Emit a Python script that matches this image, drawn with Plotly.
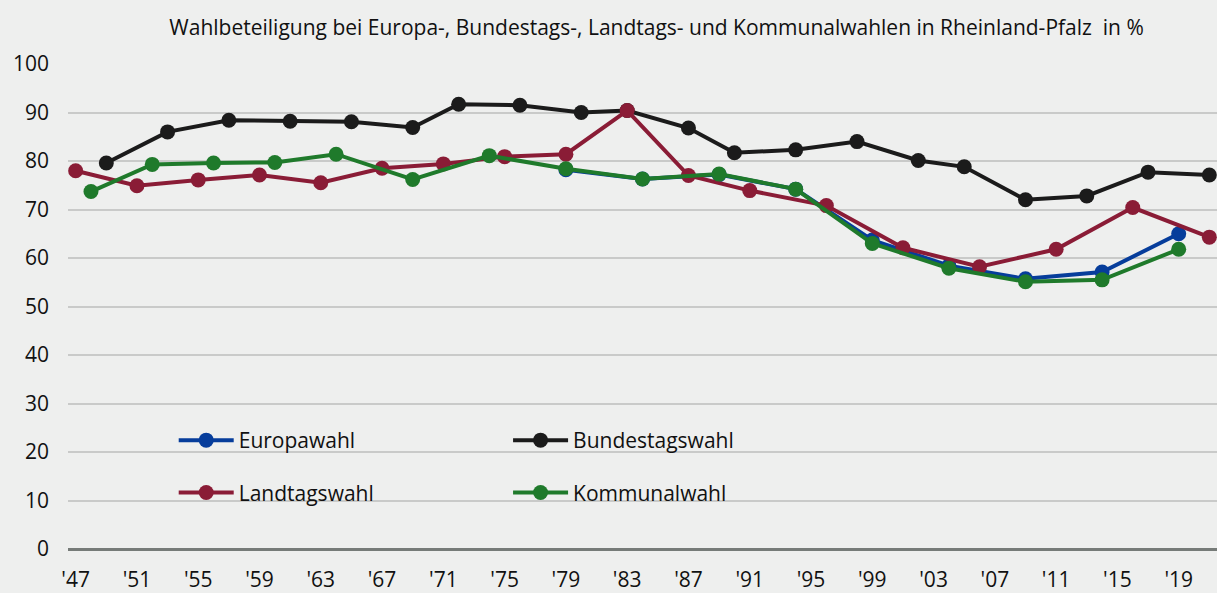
import plotly.graph_objects as go

# ---- data ----
eu_years = [1979, 1984, 1989, 1994, 1999, 2004, 2009, 2014, 2019]
eu_vals = [78.2, 76.3, 77.2, 74.2, 63.7, 58.4, 55.7, 57.1, 65.0]

bt_years = [1949, 1953, 1957, 1961, 1965, 1969, 1972, 1976, 1980, 1983,
            1987, 1990, 1994, 1998, 2002, 2005, 2009, 2013, 2017, 2021]
bt_vals = [79.6, 86.0, 88.4, 88.2, 88.1, 86.9, 91.7, 91.5, 90.0, 90.4,
           86.8, 81.7, 82.3, 84.0, 80.1, 78.8, 72.0, 72.8, 77.7, 77.1]

lt_years = [1947, 1951, 1955, 1959, 1963, 1967, 1971, 1975, 1979, 1983,
            1987, 1991, 1996, 2001, 2006, 2011, 2016, 2021]
lt_vals = [78.0, 74.9, 76.1, 77.1, 75.5, 78.5, 79.4, 80.9, 81.4, 90.4,
           77.0, 73.9, 70.8, 62.1, 58.2, 61.8, 70.4, 64.3]

kw_years = [1948, 1952, 1956, 1960, 1964, 1969, 1974, 1979, 1984, 1989,
            1994, 1999, 2004, 2009, 2014, 2019]
kw_vals = [73.7, 79.3, 79.6, 79.7, 81.4, 76.2, 81.1, 78.4, 76.3, 77.3,
           74.2, 63.0, 57.9, 55.1, 55.5, 61.8]

tick_years = list(range(1947, 2020, 4))
tick_labels = ["'" + str(y)[2:] for y in tick_years]
y_ticks = list(range(0, 101, 10))

title_text = "Wahlbeteiligung bei Europa-, Bundestags-, Landtags- und Kommunalwahlen in Rheinland-Pfalz  in %"

# ---- styles ----
BG = "#eeefee"
FONT = "Open Sans"
TXT = "#111111"
series = [
    ("Europawahl", eu_years, eu_vals, "#063d9b", "legend", "g1"),
    ("Bundestagswahl", bt_years, bt_vals, "#1b1b1b", "legend2", "g2"),
    ("Landtagswahl", lt_years, lt_vals, "#8a1c36", "legend", "g3"),
    ("Kommunalwahl", kw_years, kw_vals, "#1f7a2b", "legend2", "g4"),
]

fig = go.Figure()
for name, xs, ys, col, leg, grp in series:
    fig.add_trace(go.Scatter(
        x=xs, y=ys, name=name, mode="lines+markers",
        line=dict(color=col, width=4),
        marker=dict(color=col, size=15),
        legend=leg, legendgroup=grp, cliponaxis=False,
    ))

legend_common = dict(
    bgcolor="rgba(0,0,0,0)", font=dict(family=FONT, size=21, color=TXT),
    orientation="v", tracegroupgap=22, itemwidth=55, traceorder="grouped",
    yanchor="top", xanchor="left",
)

fig.update_layout(
    width=1217, height=593,
    paper_bgcolor=BG, plot_bgcolor=BG,
    margin=dict(l=68, r=0, t=64, b=44),
    font=dict(family=FONT, size=21, color=TXT),
    title=dict(text=title_text, x=0.5395, xanchor="center", xref="container",
               y=0.953, yanchor="middle", yref="container",
               font=dict(family=FONT, size=21, color=TXT)),
    xaxis=dict(range=[1946.5, 2021.5], tickvals=tick_years, ticktext=tick_labels,
               showgrid=False, zeroline=False, showline=False,
               ticks="", ticklabelstandoff=16,
               tickfont=dict(family=FONT, size=21, color=TXT)),
    yaxis=dict(range=[0, 100], tickvals=y_ticks, showgrid=True,
               gridcolor="#c9cac9", gridwidth=1.5, zeroline=True,
               zerolinecolor="#767b78", zerolinewidth=2.5,
               showline=False, ticks="", ticklabelstandoff=18,
               tickfont=dict(family=FONT, size=21, color=TXT)),
    legend=dict(x=0.092, y=0.266, **legend_common),
    legend2=dict(x=0.383, y=0.266, **legend_common),
    shapes=[dict(type="rect", xref="paper", yref="paper",
                 x0=0.046, x1=0.628, y0=0.05, y1=0.265,
                 fillcolor=BG, line=dict(width=0), layer="between")],
    showlegend=True,
)

fig.write_html(
    "out.html",
    config={"displayModeBar": False},
    post_script="document.body.style.margin='0';document.body.style.overflow='hidden';"
                "document.body.style.background='" + BG + "';",
)
